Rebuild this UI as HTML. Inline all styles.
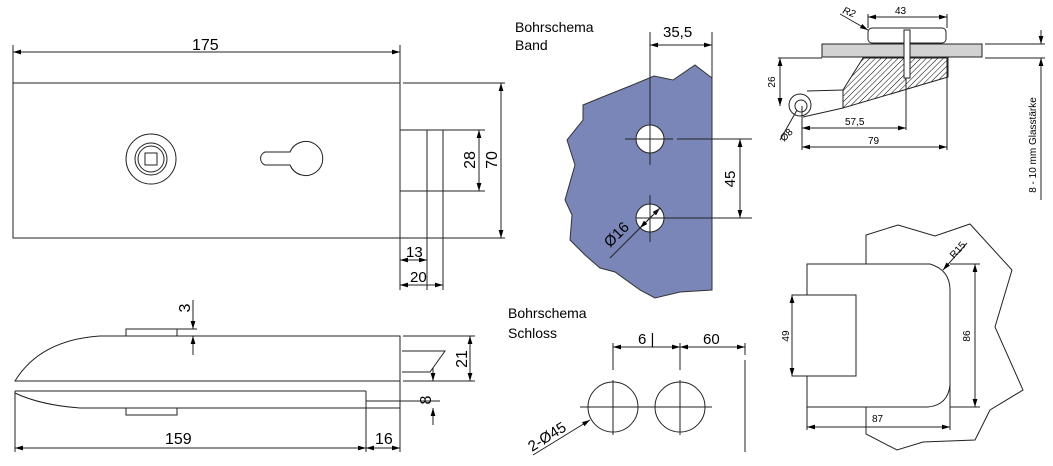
<!DOCTYPE html>
<html><head><meta charset="utf-8"><style>
html,body{margin:0;padding:0;background:#fff;}
svg{display:block;}
text{font-family:"Liberation Sans","DejaVu Sans",sans-serif;fill:#000;}
</style></head><body>
<svg width="1053" height="466" viewBox="0 0 1053 466" xmlns="http://www.w3.org/2000/svg">
<defs>
<marker id="a" viewBox="0 0 10 6" refX="10" refY="3" markerWidth="8" markerHeight="5" orient="auto-start-reverse"><path d="M0,0L10,3L0,6z" fill="#000"/></marker>
<pattern id="h" width="4" height="4" patternUnits="userSpaceOnUse" patternTransform="rotate(45)"><line x1="0" y1="0" x2="0" y2="4" stroke="#000" stroke-width="1"/></pattern>
</defs>
<g fill="none" stroke="#222" stroke-width="1">
<!-- top-left view -->
<rect x="13" y="83" width="387" height="155"/>
<line x1="13" y1="52" x2="400" y2="52" marker-start="url(#a)" marker-end="url(#a)"/>
<line x1="13" y1="45" x2="13" y2="83"/><line x1="400" y1="45" x2="400" y2="83"/>
<rect x="400" y="130" width="43" height="61"/><line x1="427" y1="130" x2="427" y2="290"/><line x1="443" y1="191" x2="443" y2="290"/>
<line x1="400" y1="238" x2="400" y2="290"/>
<line x1="443" y1="130" x2="485" y2="130"/><line x1="443" y1="191" x2="485" y2="191"/>
<line x1="479" y1="130" x2="479" y2="191" marker-start="url(#a)" marker-end="url(#a)"/>
<line x1="403" y1="83" x2="505" y2="83"/><line x1="400" y1="238" x2="505" y2="238"/>
<line x1="501" y1="83" x2="501" y2="238" marker-start="url(#a)" marker-end="url(#a)"/>
<line x1="400" y1="260" x2="427" y2="260" marker-start="url(#a)" marker-end="url(#a)"/>
<line x1="400" y1="285" x2="443" y2="285" marker-start="url(#a)" marker-end="url(#a)"/>
<circle cx="151" cy="159" r="25"/><circle cx="151" cy="159" r="16"/><circle cx="151" cy="159" r="13"/>
<rect x="145" y="153" width="12" height="12"/>
<path d="M290,152 A17,17 0 1 1 290,165 L265,165 A7,7 0 0 1 265,152 Z"/>
<!-- bottom-left view -->
<path d="M15,381 Q40,340 100,336 L400,336 L400,381 Z"/>
<rect x="126" y="329" width="51" height="7"/>
<line x1="193" y1="300" x2="193" y2="329" marker-end="url(#a)"/>
<line x1="193" y1="355" x2="193" y2="336" marker-end="url(#a)"/>
<line x1="177" y1="329" x2="197" y2="329"/>
<path d="M402,351 L445,351 L430,372 L402,372"/>
<line x1="403" y1="336" x2="475" y2="336"/><line x1="403" y1="381" x2="475" y2="381"/>
<line x1="470" y1="336" x2="470" y2="381" marker-start="url(#a)" marker-end="url(#a)"/>
<path d="M15,391 L366,391 M15,393 Q40,405 80,408 L400,408"/>
<rect x="126" y="408" width="51" height="7"/>
<line x1="366" y1="391" x2="366" y2="452"/><line x1="400" y1="381" x2="400" y2="452"/>
<line x1="15" y1="391" x2="15" y2="452"/>
<line x1="366" y1="401" x2="440" y2="401"/>
<line x1="433" y1="368" x2="433" y2="381" marker-end="url(#a)"/>
<line x1="433" y1="425" x2="433" y2="408" marker-end="url(#a)"/>
<line x1="15" y1="448" x2="366" y2="448" marker-start="url(#a)" marker-end="url(#a)"/>
<line x1="366" y1="448" x2="400" y2="448" marker-start="url(#a)" marker-end="url(#a)"/>
</g>
<g font-size="16">
<text x="192" y="50">175</text>
<text x="406" y="257" font-size="15">13</text>
<text x="410" y="282" font-size="15">20</text>
<text transform="translate(475,160) rotate(-90)" text-anchor="middle">28</text>
<text transform="translate(497,160) rotate(-90)" text-anchor="middle">70</text>
<text transform="translate(190,308) rotate(-90)" text-anchor="middle">3</text>
<text transform="translate(467,359) rotate(-90)" text-anchor="middle">21</text>
<text transform="translate(431,400) rotate(-90)" text-anchor="middle">8</text>
<text x="165" y="444">159</text>
<text x="375" y="444">16</text>
</g>
<!-- Bohrschema Band -->
<text x="515" y="32" font-size="14">Bohrschema</text>
<text x="515" y="50" font-size="14">Band</text>
<polygon points="712,78 695,65 673,80 654,76 630,86 600,98 583,105 583,120 567,140 575,165 565,200 572,215 570,240 585,255 600,268 615,272 640,290 655,298 680,292 712,290" fill="#7b86b8" stroke="#333" stroke-width="1"/>
<circle cx="650" cy="139" r="14" fill="#fff" stroke="#222"/>
<circle cx="650" cy="218" r="14" fill="#fff" stroke="#222"/>
<g stroke="#222" fill="none" stroke-width="1">
<line x1="650" y1="32" x2="650" y2="165"/><line x1="712" y1="32" x2="712" y2="78"/>
<line x1="650" y1="195" x2="650" y2="242"/>
<line x1="650" y1="45" x2="712" y2="45" marker-start="url(#a)" marker-end="url(#a)"/>
<line x1="625" y1="139" x2="673" y2="139"/><line x1="677" y1="139" x2="752" y2="139"/>
<line x1="636" y1="218" x2="752" y2="218"/>
<line x1="740" y1="139" x2="740" y2="218" marker-start="url(#a)" marker-end="url(#a)"/>
<line x1="610" y1="258" x2="660" y2="208" marker-end="url(#a)"/>
<line x1="660" y1="208" x2="640" y2="228" marker-end="url(#a)"/>
</g>
<text x="663" y="37" font-size="15">35,5</text>
<text transform="translate(735,179) rotate(-90)" text-anchor="middle" font-size="15">45</text>
<text transform="translate(610,248) rotate(-45)" font-size="15">Ø16</text>
<!-- Bohrschema Schloss -->
<text x="508" y="318" font-size="14">Bohrschema</text>
<text x="508" y="338" font-size="14">Schloss</text>
<g stroke="#222" fill="none">
<circle cx="613" cy="407" r="25"/><circle cx="680" cy="407" r="25"/>
<line x1="580" y1="407" x2="712" y2="407"/>
<line x1="613" y1="343" x2="613" y2="370"/><line x1="613" y1="380" x2="613" y2="435"/>
<line x1="680" y1="343" x2="680" y2="370"/><line x1="680" y1="380" x2="680" y2="435"/>
<line x1="745" y1="343" x2="745" y2="355"/><line x1="745" y1="360" x2="745" y2="452"/>
<line x1="613" y1="347" x2="680" y2="347" marker-start="url(#a)" marker-end="url(#a)"/>
<line x1="680" y1="347" x2="745" y2="347" marker-start="url(#a)" marker-end="url(#a)"/>
<line x1="533" y1="455" x2="590" y2="420" marker-end="url(#a)"/>
</g>
<text x="638" y="344" font-size="15">6 |</text>
<text x="703" y="344" font-size="15">60</text>
<text transform="translate(532,452) rotate(-32)" font-size="15">2-Ø45</text>
<!-- top right hinge -->
<g stroke="#222" fill="none" stroke-width="1">
<rect x="822" y="44" width="160" height="13" fill="#d2d2d2"/>
<rect x="868" y="28" width="78" height="15" rx="4"/>
<polygon points="863,58 948,58 948,77 843,108 843,90" fill="url(#h)"/>
<rect x="904" y="30" width="6" height="48" fill="#fff"/>
<circle cx="800" cy="105" r="11" fill="#fff"/><circle cx="801" cy="106" r="6"/>
<line x1="807" y1="91" x2="843" y2="90"/><line x1="803" y1="117" x2="843" y2="108"/>
<line x1="778" y1="58" x2="822" y2="58"/>
<line x1="780" y1="58" x2="780" y2="106" marker-start="url(#a)" marker-end="url(#a)"/>
<line x1="868" y1="17" x2="947" y2="17" marker-start="url(#a)" marker-end="url(#a)"/>
<line x1="868" y1="14" x2="868" y2="28"/><line x1="947" y1="14" x2="947" y2="28"/>
<line x1="840" y1="14" x2="868" y2="30" marker-end="url(#a)"/>
<line x1="802" y1="106" x2="802" y2="150"/><line x1="906" y1="78" x2="906" y2="130"/><line x1="947" y1="58" x2="947" y2="150"/>
<line x1="802" y1="128" x2="906" y2="128" marker-start="url(#a)" marker-end="url(#a)"/>
<line x1="802" y1="147" x2="947" y2="147" marker-start="url(#a)" marker-end="url(#a)"/>
<line x1="780" y1="140" x2="797" y2="110"/>
<line x1="985" y1="44" x2="1045" y2="44"/><line x1="985" y1="58" x2="1045" y2="58"/>
<line x1="1041" y1="30" x2="1041" y2="44" marker-end="url(#a)"/>
<line x1="1041" y1="200" x2="1041" y2="58" marker-end="url(#a)"/>
</g>
<text x="895" y="14" font-size="10">43</text>
<text transform="translate(842,13) rotate(20)" font-size="10" font-style="italic">R2</text>
<text transform="translate(775,82) rotate(-90)" text-anchor="middle" font-size="10">26</text>
<text x="845" y="125" font-size="10">57,5</text>
<text x="868" y="144" font-size="10">79</text>
<text transform="translate(784,142) rotate(-45)" font-size="10">Ø8</text>
<text transform="translate(1036,145) rotate(-90)" text-anchor="middle" font-size="10">8 - 10 mm Glasstärke</text>
<!-- bottom right -->
<g stroke="#222" fill="none">
<path d="M866,264 L866,235 L898,225 L935,236 L970,224 L1012,270 L995,327 L1023,390 L990,410 L975,440 L923,442 L897,450 L866,434 L866,407"/>
<path d="M807,295 L807,264 L930,264 Q950,270 950,290 L950,385 Q948,405 928,407 L807,407 L807,376" fill="#fff"/>
<rect x="792" y="295" width="64" height="81" fill="#fff"/>
<line x1="950" y1="264" x2="980" y2="264"/><line x1="950" y1="407" x2="980" y2="407"/>
<line x1="975" y1="264" x2="975" y2="407" marker-start="url(#a)" marker-end="url(#a)"/>
<line x1="792" y1="295" x2="792" y2="376" marker-start="url(#a)" marker-end="url(#a)"/>
<line x1="807" y1="407" x2="807" y2="430"/><line x1="950" y1="385" x2="950" y2="430"/>
<line x1="807" y1="427" x2="950" y2="427" marker-start="url(#a)" marker-end="url(#a)"/>
<line x1="967" y1="243" x2="943" y2="270" marker-end="url(#a)"/>
</g>
<text transform="translate(970,336) rotate(-90)" text-anchor="middle" font-size="10">86</text>
<text transform="translate(789,336) rotate(-90)" text-anchor="middle" font-size="10">49</text>
<text x="872" y="422" font-size="10">87</text>
<text transform="translate(954,259) rotate(-48)" font-size="10">R15</text>
</svg>
</body></html>
